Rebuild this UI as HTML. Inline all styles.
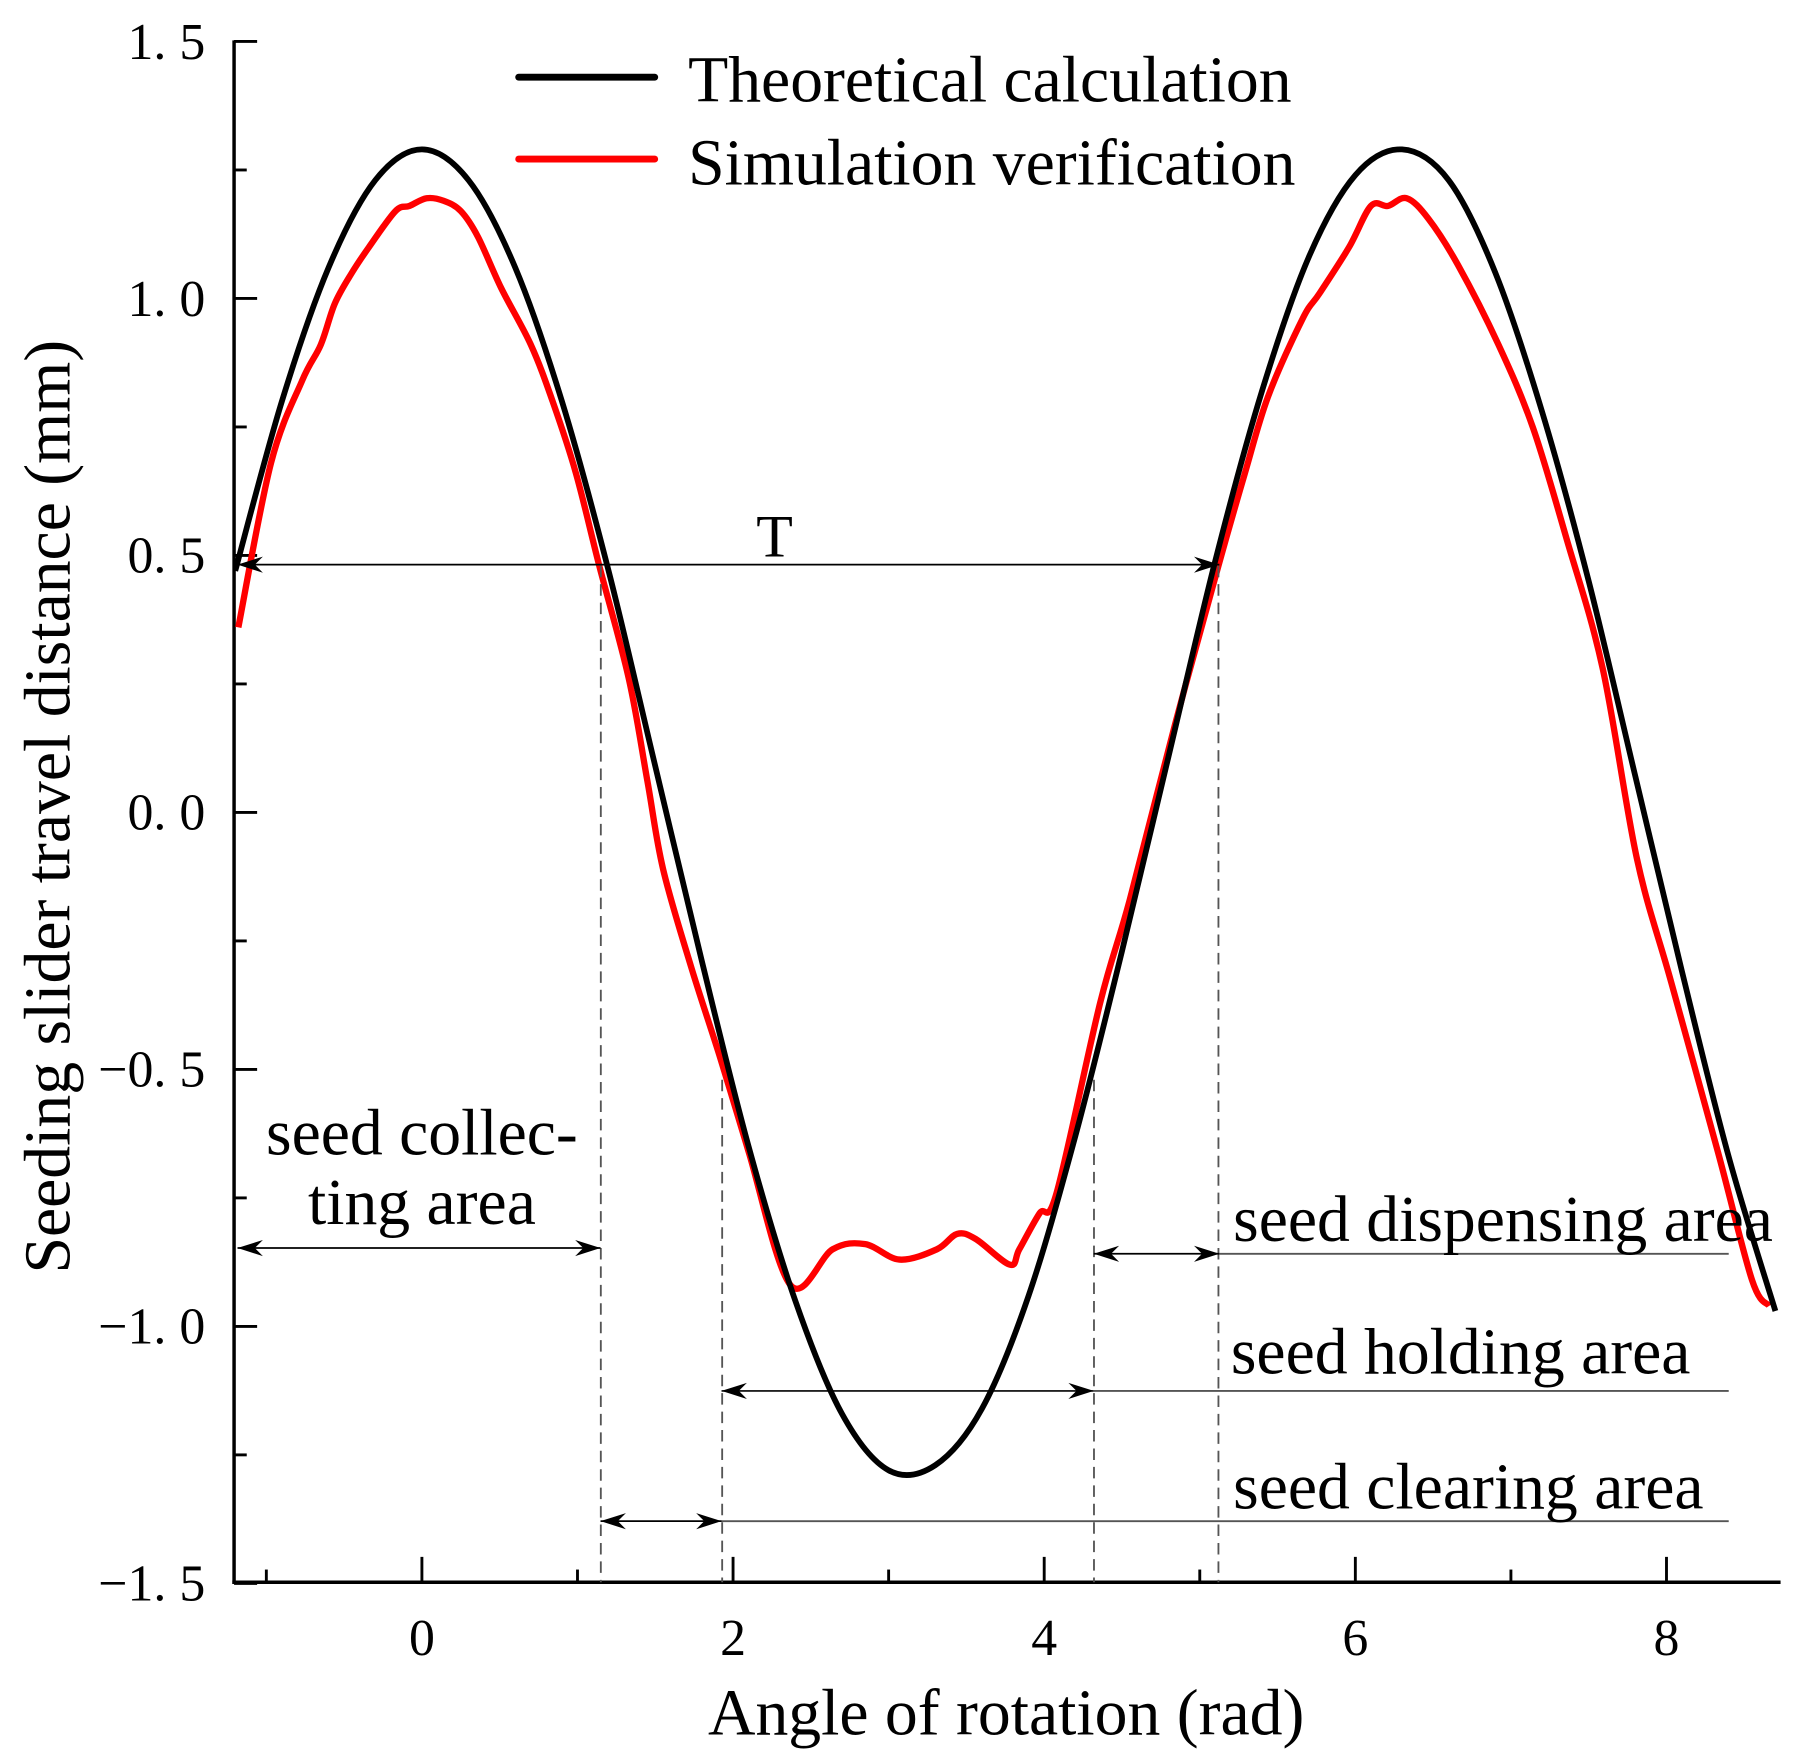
<!DOCTYPE html>
<html><head><meta charset="utf-8"><style>
html,body{margin:0;padding:0;background:#fff;}
svg{display:block;}
text{font-family:"Liberation Serif",serif;fill:#000;}
</style></head><body>
<svg id="chart" width="1798" height="1762" viewBox="0 0 1560 1529" xmlns="http://www.w3.org/2000/svg">
<g id="axes"></g>
<g id="annot"></g>
<g id="series"></g>
<g id="legend">
  <line x1="450" y1="67" x2="568" y2="67" stroke="#000" stroke-width="6" stroke-linecap="round"/>
  <text x="597" y="88" font-size="57">Theoretical calculation</text>
  <line x1="450" y1="138" x2="568" y2="138" stroke="#f00" stroke-width="6" stroke-linecap="round"/>
  <text x="597" y="160" font-size="57">Simulation verification</text>
</g>
<text x="873" y="1505" font-size="57" text-anchor="middle">Angle of rotation (rad)</text>
<text transform="translate(60,700) rotate(-90)" font-size="57" text-anchor="middle">Seeding slider travel distance (mm)</text>
</svg>
<script>
const theoX = [-1.2,-0.9,-0.6,-0.3,0,0.3,0.6,0.9,1.2,1.5,1.8,2.1,2.4,2.7,3.0,3.3,3.6,3.9,4.2,4.5,4.8,5.1,5.4,5.7,6.0,6.3,6.6,6.9,7.2,7.5,7.8,8.1,8.4,8.7];
const theoY = [0.47,0.80,1.06,1.23,1.29,1.23,1.06,0.80,0.47,0.09,-0.29,-0.65,-0.95,-1.17,-1.28,-1.27,-1.16,-0.94,-0.63,-0.27,0.11,0.49,0.82,1.08,1.24,1.29,1.23,1.05,0.78,0.45,0.07,-0.31,-0.67,-0.97];
const simX = [-1.18,-0.97,-0.77,-0.65,-0.56,-0.45,-0.34,-0.17,-0.08,0.03,0.14,0.25,0.36,0.51,0.70,0.84,0.99,1.14,1.33,1.45,1.55,1.73,1.92,2.10,2.37,2.64,2.85,3.07,3.31,3.44,3.56,3.78,3.84,3.97,4.08,4.36,4.55,4.84,5.12,5.29,5.44,5.66,5.77,5.96,6.10,6.21,6.33,6.47,6.66,6.92,7.14,7.36,7.59,7.81,8.03,8.33,8.55,8.66];
const simY = [0.36,0.68,0.84,0.91,0.99,1.05,1.10,1.17,1.18,1.195,1.19,1.17,1.12,1.02,0.91,0.80,0.66,0.48,0.26,0.06,-0.11,-0.30,-0.48,-0.66,-0.92,-0.85,-0.84,-0.87,-0.85,-0.82,-0.83,-0.88,-0.85,-0.78,-0.74,-0.37,-0.17,0.17,0.48,0.66,0.81,0.96,1.01,1.10,1.18,1.18,1.195,1.155,1.065,0.91,0.75,0.53,0.28,-0.09,-0.33,-0.66,-0.91,-0.96];
const xTicks = [0,2,4,6,8];
const xMinor = [-1,1,3,5,7];
const yTicks = [1.5,1.0,0.5,0.0,-0.5,-1.0,-1.5];
const yTickLabels = ["1. 5","1. 0","0. 5","0. 0","\u22120. 5","\u22121. 0","\u22121. 5"];
const yMinor = [1.25,0.75,0.25,-0.25,-0.75,-1.25];

const L=203,R=1545,T=35,B=1373;
function sx(v){return 366+135*v;}
function sy(v){return 705-446*v;}
const NS="http://www.w3.org/2000/svg";
function mk(tag,parent,attrs){const e=document.createElementNS(NS,tag);for(const k in attrs)e.setAttribute(k,attrs[k]);parent.appendChild(e);return e;}
const axes=document.getElementById('axes');
let e;
e=mk('line',axes,{x1:L,y1:T,x2:L,y2:B+1.5,stroke:'#000','stroke-width':3});


e=mk('line',axes,{x1:L-1.5,y1:B,x2:R,y2:B,stroke:'#000','stroke-width':3});


xTicks.forEach(v=>{
  e=mk('line',axes,{x1:sx(v),y1:B,x2:sx(v),y2:B-22,stroke:'#000','stroke-width':2.5});
  
  
  e=mk('text',axes,{x:sx(v),y:1436,'font-size':45,'text-anchor':'middle'});e.textContent=v;
  
  
});
xMinor.forEach(v=>{
  e=mk('line',axes,{x1:sx(v),y1:B,x2:sx(v),y2:B-11,stroke:'#000','stroke-width':2.5});
  
  
});
yTicks.forEach((v,i)=>{
  e=mk('line',axes,{x1:L,y1:sy(v),x2:L+20,y2:sy(v),stroke:'#000','stroke-width':2.5});
  
  
  e=mk('text',axes,{x:178,y:sy(v)+15,'font-size':45,'text-anchor':'end'});e.textContent=yTickLabels[i];
  
  
});
yMinor.forEach(v=>{
  e=mk('line',axes,{x1:L,y1:sy(v),x2:L+11,y2:sy(v),stroke:'#000','stroke-width':2.5});
  
  
});

const an=document.getElementById('annot');
function vdash(xv,y1v,name){
  e=mk('line',an,{x1:sx(xv),y1:sy(y1v),x2:sx(xv),y2:B,stroke:'#555','stroke-width':1.6,'stroke-dasharray':'10,6'});
  
  
}
vdash(1.15,0.48,'dash-line-1');
vdash(1.93,-0.52,'dash-line-2');
vdash(4.32,-0.52,'dash-line-3');
vdash(5.12,0.48,'dash-line-4');
function head(x,y,dir){
  const p=`M${x},${y} L${x-dir*22},${y-7} L${x-dir*15},${y} L${x-dir*22},${y+7} Z`;
  return mk('path',an,{d:p,fill:'#000'});
}
function darrow(x1,x2,y,name){
  e=mk('line',an,{x1:x1,y1:y,x2:x2,y2:y,stroke:'#000','stroke-width':1.5});
  
  
  e=head(x1,y,-1);
  
  
  e=head(x2,y,1);
  
  
}
function hline(x1,x2,y,name){
  e=mk('line',an,{x1:x1,y1:y,x2:x2,y2:y,stroke:'#555','stroke-width':1.6});
  
  
}
darrow(206,1058,490,'period-arrow');
darrow(206,521,1083,'collecting-arrow');
darrow(949,1058,1088,'dispensing-arrow');
hline(1058,1500,1088,'dispensing-line');
darrow(626,949,1207,'holding-arrow');
hline(949,1500,1207,'holding-line');
darrow(521,626,1320,'clearing-arrow');
hline(626,1500,1320,'clearing-line');
function txt(x,y,s,size,anchor,name){
  e=mk('text',an,{x:x,y:y,'font-size':size,'text-anchor':anchor});e.textContent=s;
  
  
}
txt(672,483,'T',52,'middle','period-label');
txt(366,1002,'seed collec-',57,'middle','collecting-label-1');
txt(366,1062,'ting area',57,'middle','collecting-label-2');
txt(1070,1077,'seed dispensing area',57,'start','dispensing-label');
txt(1068,1192,'seed holding area',57,'start','holding-label');
txt(1070,1309,'seed clearing area',57,'start','clearing-label');

function pathFrom(xs,ys){
  const pts=xs.map((v,i)=>[sx(v),sy(ys[i])]);
  let d=`M${pts[0][0]},${pts[0][1]}`;
  for(let i=0;i<pts.length-1;i++){
    const p0=pts[Math.max(0,i-1)],p1=pts[i],p2=pts[i+1],p3=pts[Math.min(pts.length-1,i+2)];
    const t=1/6;
    d+=` C${p1[0]+(p2[0]-p0[0])*t},${p1[1]+(p2[1]-p0[1])*t} ${p2[0]-(p3[0]-p1[0])*t},${p2[1]-(p3[1]-p1[1])*t} ${p2[0]},${p2[1]}`;
  }
  return d;
}
const sg=document.getElementById('series');
e=mk('path',sg,{d:pathFrom(simX,simY),fill:'none',stroke:'#f00','stroke-width':5.5,'stroke-linejoin':'round'});


e=mk('path',sg,{d:pathFrom(theoX,theoY),fill:'none',stroke:'#000','stroke-width':5,'stroke-linejoin':'round'});


sg.parentNode.insertBefore(sg,document.getElementById('annot'));
</script>
</body></html>
